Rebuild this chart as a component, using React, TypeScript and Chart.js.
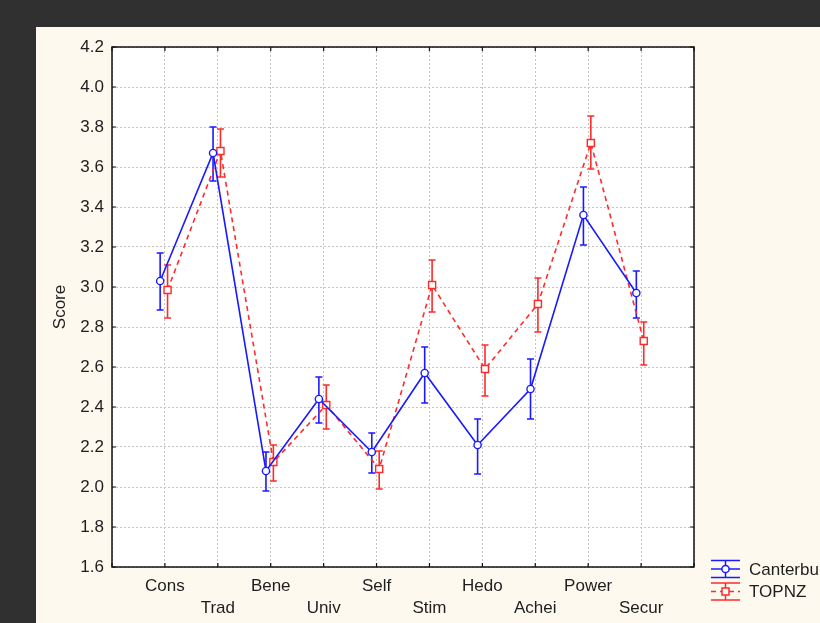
import React, { useEffect, useRef } from "react";
import { Chart, registerables } from "chart.js";

Chart.register(...registerables);

const categories = ["Cons", "Trad", "Bene", "Univ", "Self", "Stim", "Hedo", "Achei", "Power", "Secur"];
const seriesNames = ["Canterbury", "TOPNZ"];
const canterburyMean = [3.03, 3.67, 2.08, 2.44, 2.175, 2.57, 2.21, 2.49, 3.36, 2.97];
const canterburyLow = [2.885, 3.53, 1.98, 2.32, 2.07, 2.42, 2.065, 2.34, 3.21, 2.845];
const canterburyHigh = [3.17, 3.8, 2.175, 2.55, 2.27, 2.7, 2.34, 2.64, 3.5, 3.08];
const topnzMean = [2.985, 3.68, 2.125, 2.41, 2.09, 3.01, 2.59, 2.915, 3.72, 2.73];
const topnzLow = [2.845, 3.55, 2.03, 2.29, 1.99, 2.875, 2.455, 2.775, 3.59, 2.61];
const topnzHigh = [3.11, 3.79, 2.21, 2.51, 2.18, 3.135, 2.71, 3.045, 3.855, 2.825];
const yMin = 1.6;
const yMax = 4.2;
const yStep = 0.2;

const BLUE = "#1a1aff";
const RED = "#ff2a2a";
const FONT = "'Liberation Sans', Arial, sans-serif";
const TEXT = "#1e1e1e";

const lows = [canterburyLow, topnzLow];
const highs = [canterburyHigh, topnzHigh];
const colors = [BLUE, RED];

const bgPlugin = {
  id: "bgPlugin",
  beforeDraw(chart: any) {
    const { ctx, chartArea: a } = chart;
    ctx.save();
    ctx.fillStyle = "#ffffff";
    ctx.fillRect(a.left, a.top, a.right - a.left, a.bottom - a.top);
    ctx.restore();
  },
};

const errorBarPlugin = {
  id: "errorBarPlugin",
  beforeDatasetsDraw(chart: any) {
    const { ctx } = chart;
    const ys = chart.scales.y;
    chart.data.datasets.forEach((_ds: any, i: number) => {
      const meta = chart.getDatasetMeta(i);
      ctx.save();
      ctx.strokeStyle = colors[i];
      ctx.lineWidth = 1.6;
      ctx.setLineDash([]);
      meta.data.forEach((pt: any, j: number) => {
        const x = pt.x;
        const y1 = ys.getPixelForValue(lows[i][j]);
        const y2 = ys.getPixelForValue(highs[i][j]);
        ctx.beginPath();
        ctx.moveTo(x, y1);
        ctx.lineTo(x, y2);
        ctx.moveTo(x - 3.5, y1);
        ctx.lineTo(x + 3.5, y1);
        ctx.moveTo(x - 3.5, y2);
        ctx.lineTo(x + 3.5, y2);
        ctx.stroke();
      });
      ctx.restore();
    });
  },
};

const framePlugin = {
  id: "framePlugin",
  afterDraw(chart: any) {
    const { ctx, chartArea: a } = chart;
    const xs = chart.scales.x;
    const ys = chart.scales.y;
    ctx.save();
    ctx.strokeStyle = "#111";
    ctx.lineWidth = 1.5;
    ctx.setLineDash([]);
    ctx.strokeRect(a.left, a.top, a.right - a.left, a.bottom - a.top);
    ctx.lineWidth = 1.2;
    ctx.beginPath();
    xs.ticks.forEach((t: any) => {
      const x = xs.getPixelForValue(t.value);
      ctx.moveTo(x, a.bottom);
      ctx.lineTo(x, a.bottom - 4);
      ctx.moveTo(x, a.top);
      ctx.lineTo(x, a.top + 4);
    });
    ys.ticks.forEach((t: any) => {
      const y = ys.getPixelForValue(t.value);
      ctx.moveTo(a.left, y);
      ctx.lineTo(a.left + 4, y);
      ctx.moveTo(a.right, y);
      ctx.lineTo(a.right - 4, y);
    });
    ctx.stroke();
    ctx.restore();
  },
};

const legendPlugin = {
  id: "legendPlugin",
  afterDraw(chart: any) {
    const { ctx, chartArea: a } = chart;
    const x0 = a.right + 17;
    const w = 29;
    const rows = [a.bottom + 2, a.bottom + 24.5];
    ctx.save();
    rows.forEach((cy, i) => {
      const cx = x0 + w / 2;
      ctx.strokeStyle = colors[i];
      ctx.lineWidth = 1.5;
      ctx.setLineDash([]);
      ctx.beginPath();
      ctx.moveTo(x0, cy - 8.5);
      ctx.lineTo(x0 + w, cy - 8.5);
      ctx.moveTo(x0, cy + 8.5);
      ctx.lineTo(x0 + w, cy + 8.5);
      ctx.moveTo(cx, cy - 8.5);
      ctx.lineTo(cx, cy + 8.5);
      ctx.stroke();
      if (i === 1) ctx.setLineDash([5, 4]);
      ctx.beginPath();
      ctx.moveTo(x0, cy);
      ctx.lineTo(x0 + w, cy);
      ctx.stroke();
      ctx.setLineDash([]);
      ctx.fillStyle = "#fff";
      ctx.beginPath();
      if (i === 0) ctx.arc(cx, cy, 3.6, 0, Math.PI * 2);
      else ctx.rect(cx - 3.5, cy - 3.5, 7, 7);
      ctx.fill();
      ctx.stroke();
      ctx.fillStyle = TEXT;
      ctx.font = `17px ${FONT}`;
      ctx.textBaseline = "middle";
      ctx.textAlign = "left";
      ctx.fillText(seriesNames[i], x0 + 38, cy + 1);
    });
    ctx.restore();
  },
};

export default function App() {
  const ref = useRef<HTMLCanvasElement | null>(null);

  useEffect(() => {
    if (!ref.current) return;
    const chart = new Chart(ref.current, {
      type: "line",
      data: {
        datasets: [
          {
            label: seriesNames[0],
            data: canterburyMean.map((v, i) => ({ x: i + 1 - 0.09, y: v })),
            borderColor: BLUE,
            borderWidth: 1.6,
            pointStyle: "circle",
            pointRadius: 3.6,
            pointBackgroundColor: "#fff",
            pointBorderColor: BLUE,
            pointBorderWidth: 1.4,
            tension: 0,
            fill: false,
          },
          {
            label: seriesNames[1],
            data: topnzMean.map((v, i) => ({ x: i + 1 + 0.05, y: v })),
            borderColor: RED,
            borderWidth: 1.6,
            borderDash: [5, 4],
            pointStyle: "rect",
            pointRadius: 5,
            pointBackgroundColor: "#fff",
            pointBorderColor: RED,
            pointBorderWidth: 1.4,
            tension: 0,
            fill: false,
          },
        ],
      },
      options: {
        animation: false,
        responsive: false,
        maintainAspectRatio: false,
        layout: { padding: { left: 0, right: 126, top: 20, bottom: 0 } },
        plugins: {
          legend: { display: false },
          tooltip: { enabled: false },
        },
        scales: {
          x: {
            type: "linear",
            min: 0,
            max: categories.length + 1,
            afterFit: (s: any) => {
              s.height = 56;
            },
            ticks: {
              stepSize: 1,
              autoSkip: false,
              maxRotation: 0,
              padding: 8,
              color: TEXT,
              font: { family: FONT, size: 17, lineHeight: 1.3 },
              callback: (v: any) => {
                const i = Math.round(v) - 1;
                if (i < 0 || i >= categories.length) return "";
                return i % 2 === 0 ? categories[i] : ["", categories[i]];
              },
            },
            grid: { color: "#c4c4c4", lineWidth: 1, drawTicks: false },
            border: { display: false, dash: [2, 2] },
          },
          y: {
            type: "linear",
            min: yMin,
            max: yMax,
            afterFit: (s: any) => {
              s.width = 76;
            },
            ticks: {
              stepSize: yStep,
              padding: 8,
              color: TEXT,
              font: { family: FONT, size: 17 },
              callback: (v: any) => Number(v).toFixed(1),
            },
            grid: { color: "#c4c4c4", lineWidth: 1, drawTicks: false },
            border: { display: false, dash: [2, 2] },
            title: {
              display: true,
              text: "Score",
              color: TEXT,
              font: { family: FONT, size: 17 },
              padding: { top: 14, bottom: 0 },
            },
          },
        },
      },
      plugins: [bgPlugin, errorBarPlugin, framePlugin, legendPlugin],
    } as any);
    return () => chart.destroy();
  }, []);

  return (
    <div
      style={{
        position: "absolute",
        left: 0,
        top: 0,
        width: 820,
        height: 623,
        background: "#303030",
        overflow: "hidden",
      }}
    >
      <div
        style={{
          position: "absolute",
          left: 36,
          top: 27,
          width: 784,
          height: 596,
          background: "#fdf9ef",
        }}
      >
        <canvas ref={ref} width={784} height={596} style={{ display: "block", width: 784, height: 596 }} />
      </div>
    </div>
  );
}
